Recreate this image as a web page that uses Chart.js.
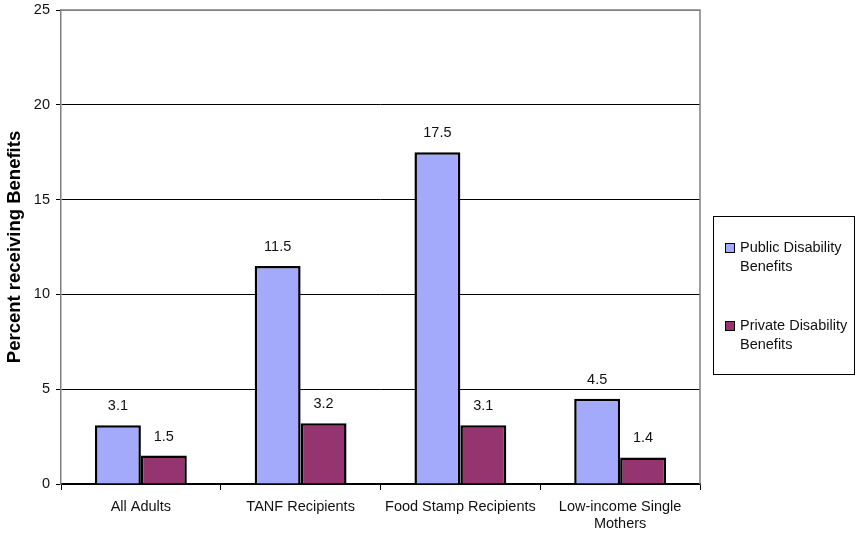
<!DOCTYPE html>
<html>
<head>
<meta charset="utf-8">
<script src="https://cdn.jsdelivr.net/npm/chart.js@4.4.0/dist/chart.umd.min.js"></script>
<style>
  body { margin: 0; background: #fff; }
  #wrap { position: relative; width: 859px; height: 535px; }
  #legend {
    position: absolute; left: 713px; top: 216px; width: 142px; height: 159px;
    border: 1px solid #000; box-sizing: border-box;
    font-family: "Liberation Sans", Arial, sans-serif; font-size: 14.5px; color: #111;
  }
  .item { position: absolute; left: 11px; line-height: 19px; padding-left: 15px; white-space: nowrap; }
  .sw { position: absolute; left: 0; top: 5px; width: 8px; height: 8px; border: 1.5px solid #000; }
</style>
</head>
<body>
<div id="wrap">
  <canvas id="chart" width="859" height="535"></canvas>
  <div id="legend"></div>
</div>
<script>
// ---- data ----
const categories = ["All Adults", "TANF Recipients", "Food Stamp Recipients", ["Low-income Single", "Mothers"]];
const publicBenefits = [3.1, 11.5, 17.5, 4.5];
const privateBenefits = [1.5, 3.2, 3.1, 1.4];
const seriesNames = ["Public Disability Benefits", "Private Disability Benefits"];
const seriesColors = ["#a3aafc", "#943570"];
const yTicks = [0, 5, 10, 15, 20, 25];

const FONT = "'Liberation Sans', Arial, sans-serif";

// value labels above each bar
const valueLabels = {
  id: "valueLabels",
  afterDatasetsDraw(chart) {
    const ctx = chart.ctx;
    ctx.save();
    ctx.font = "14.5px " + FONT;
    ctx.fillStyle = "#111";
    ctx.textAlign = "center";
    ctx.textBaseline = "middle";
    chart.data.datasets.forEach((ds, i) => {
      chart.getDatasetMeta(i).data.forEach((bar, j) => {
        ctx.fillText(ds.data[j].toFixed(1), bar.x, bar.y - 19);
      });
    });
    ctx.restore();
  }
};

// gray frame on top and right of plot area
const plotFrame = {
  id: "plotFrame",
  beforeDatasetsDraw(chart) {
    const { ctx, chartArea: a } = chart;
    ctx.save();
    ctx.strokeStyle = "#808080";
    ctx.lineWidth = 1.5;
    ctx.beginPath();
    ctx.moveTo(a.left, a.top);
    ctx.lineTo(a.right, a.top);
    ctx.lineTo(a.right, a.bottom);
    ctx.stroke();
    ctx.restore();
  }
};

new Chart(document.getElementById("chart"), {
  type: "bar",
  data: {
    labels: categories,
    datasets: [
      { label: seriesNames[0], data: publicBenefits, backgroundColor: seriesColors[0], borderColor: "#000", borderWidth: 2.5 },
      { label: seriesNames[1], data: privateBenefits, backgroundColor: seriesColors[1], borderColor: "#000", borderWidth: 2.5 }
    ]
  },
  options: {
    responsive: false,
    animation: false,
    layout: { padding: { top: 10, right: 159, left: 0, bottom: 0 } },
    datasets: { bar: { categoryPercentage: 0.575, barPercentage: 1 } },
    plugins: { legend: { display: false }, tooltip: { enabled: false } },
    scales: {
      x: {
        grid: { drawOnChartArea: false, drawTicks: true, tickLength: 6, color: "#000", offset: true },
        border: { color: "#000", width: 1.5 },
        ticks: { color: "#111", font: { family: FONT, size: 14.5 }, padding: 8, maxRotation: 0 },
        afterFit(scale) { scale.height = 51; }
      },
      y: {
        min: 0, max: 25,
        afterBuildTicks(scale) { scale.ticks = yTicks.map(v => ({ value: v })); },
        grid: {
          color: ctx => ctx.tick && ctx.tick.value === 25 ? "#808080" : "#000",
          lineWidth: 1, tickLength: 5, tickColor: "#000"
        },
        border: { color: "#808080", width: 1.5 },
        ticks: { color: "#111", font: { family: FONT, size: 14.5 }, padding: 6 },
        title: { display: true, text: "Percent receiving Benefits", color: "#000",
                 font: { family: FONT, size: 18.5, weight: "bold" }, padding: { top: 4, bottom: 4 } },
        afterFit(scale) { scale.width = 61; scale.paddingTop = 0; }
      }
    }
  },
  plugins: [plotFrame, valueLabels]
});

// legend box
const legendEl = document.getElementById("legend");
const itemTops = [21, 99];
seriesNames.forEach((name, i) => {
  const words = name.split(" ");
  const div = document.createElement("div");
  div.className = "item";
  div.style.top = itemTops[i] + "px";
  div.innerHTML = `<span class="sw" style="background:${seriesColors[i]}"></span>${words.slice(0, 2).join(" ")}<br>${words.slice(2).join(" ")}`;
  legendEl.appendChild(div);
});
</script>
</body>
</html>
